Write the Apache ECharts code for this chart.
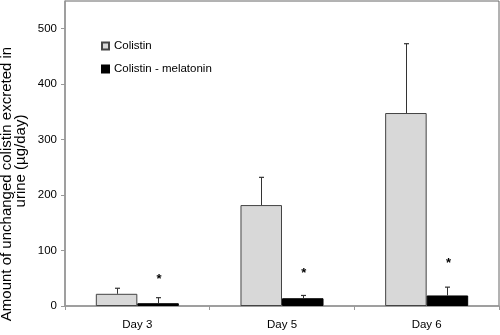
<!DOCTYPE html>
<html>
<head>
<meta charset="utf-8">
<script src="https://cdn.jsdelivr.net/npm/echarts@6/dist/echarts.min.js"></script>
<style>
  html, body { margin: 0; padding: 0; background: #fff; }
  #chart { width: 500px; height: 335px; }
</style>
</head>
<body>
<div id="chart"></div>
<script>
const days = ["Day 3", "Day 5", "Day 6"];
const colistin = [22, 182, 348];
const colistinErr = [10, 50, 125];
const melatonin = [5, 14, 19];
const melatoninErr = [10, 5, 15];
const asteriskAt = [48, 59, 76];
const yTicks = [0, 100, 200, 300, 400, 500];

const BAR_FRAC = 0.287;
const font = "'Liberation Sans', Arial, sans-serif";

function errorBars(values, errs, side) {
  return {
    type: "custom",
    z: 5,
    silent: true,
    data: values.map((v, i) => [i, v, errs[i]]),
    renderItem(params, api) {
      const band = api.size([1, 0])[0];
      const dx = side * band * BAR_FRAC / 2;
      const base = api.coord([api.value(0), api.value(1)]);
      const top = api.coord([api.value(0), api.value(1) + api.value(2)]);
      const x = Math.round(base[0] + dx) + 0.5;
      return {
        type: "group",
        children: [
          { type: "line", shape: { x1: x, y1: base[1], x2: x, y2: top[1] },
            style: { stroke: "#333", lineWidth: 1 } },
          { type: "line", shape: { x1: x - 2.5, y1: top[1], x2: x + 2.5, y2: top[1] },
            style: { stroke: "#333", lineWidth: 1.2 } }
        ]
      };
    }
  };
}

const chart = echarts.init(document.getElementById("chart"), null, { renderer: "canvas" });

chart.setOption({
  animation: false,
  backgroundColor: "#fff",
  textStyle: { fontFamily: font },
  grid: {
    left: 65, right: 1, top: 1, bottom: 29,
    show: true, borderColor: "#666", borderWidth: 1
  },
  legend: {
    data: ["Colistin", "Colistin - melatonin"],
    orient: "vertical",
    left: 96, top: 35,
    itemWidth: 7, itemHeight: 7, itemGap: 11,
    icon: "rect",
    textStyle: { fontSize: 11.5, color: "#000", fontFamily: font }
  },
  graphic: [
    {
      type: "text",
      x: 7, y: 184,
      rotation: Math.PI / 2,
      style: {
        text: "Amount of unchanged colistin excreted in",
        textAlign: "center", textVerticalAlign: "middle",
        fontSize: 15, fill: "#000", fontFamily: font
      }
    },
    {
      type: "text",
      x: 21, y: 161,
      rotation: Math.PI / 2,
      style: {
        text: "urine (µg/day)",
        textAlign: "center", textVerticalAlign: "middle",
        fontSize: 15, fill: "#000", fontFamily: font
      }
    }
  ],
  xAxis: {
    type: "category",
    data: days,
    axisLine: { lineStyle: { color: "#999", width: 1.5 } },
    axisTick: { show: true, alignWithLabel: false, length: 4, lineStyle: { color: "#999" } },
    axisLabel: { color: "#000", fontSize: 11.5, margin: 13, fontFamily: font }
  },
  yAxis: {
    type: "value",
    min: 0, max: 550, interval: 50,
    axisLine: { show: true, lineStyle: { color: "#999", width: 1.5 } },
    axisTick: { show: true, length: 4, lineStyle: { color: "#999" }, customValues: yTicks },
    axisLabel: { color: "#000", fontSize: 11.5, margin: 8, customValues: yTicks, fontFamily: font },
    splitLine: { show: false }
  },
  series: [
    {
      name: "Colistin",
      type: "bar",
      data: colistin,
      barWidth: (BAR_FRAC * 100) + "%",
      barGap: "0%",
      itemStyle: { color: "#d8d8d8", borderColor: "#444", borderWidth: 1 }
    },
    {
      name: "Colistin - melatonin",
      type: "bar",
      data: melatonin,
      barWidth: (BAR_FRAC * 100) + "%",
      barGap: "0%",
      itemStyle: { color: "#000", borderColor: "#000", borderWidth: 1 }
    },
    errorBars(colistin, colistinErr, -1),
    errorBars(melatonin, melatoninErr, 1),
    {
      type: "custom",
      z: 6,
      silent: true,
      data: asteriskAt.map((v, i) => [i, v]),
      renderItem(params, api) {
        const band = api.size([1, 0])[0];
        const p = api.coord([api.value(0), api.value(1)]);
        return {
          type: "text",
          x: p[0] + band * BAR_FRAC / 2 + 1,
          y: p[1],
          style: { text: "*", textAlign: "center", textVerticalAlign: "middle",
                   fontSize: 13, fontWeight: "bold", fill: "#000", fontFamily: font }
        };
      }
    }
  ]
});
</script>
</body>
</html>
